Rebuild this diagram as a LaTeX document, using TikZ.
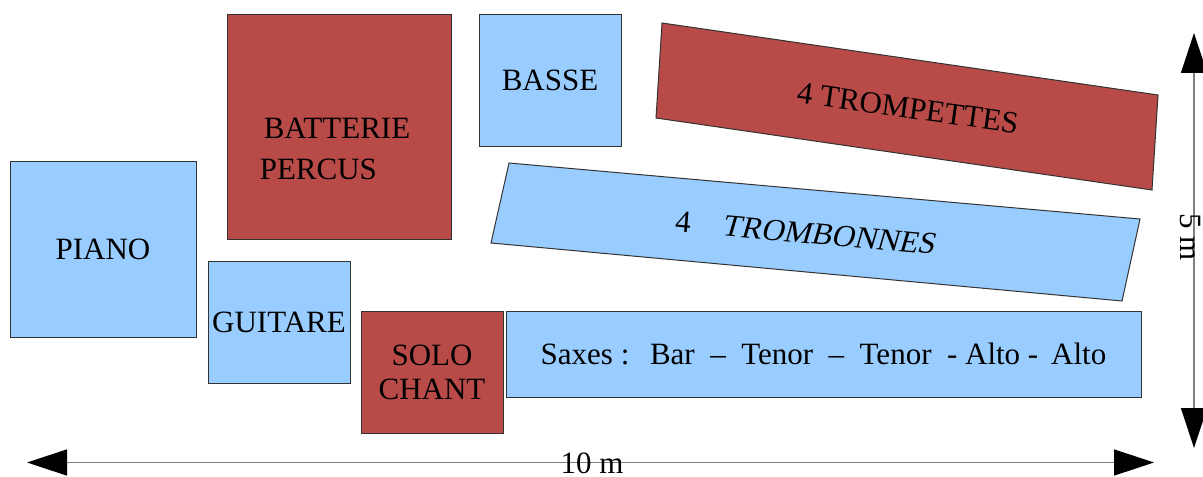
\documentclass[tikz,border=0pt]{standalone}
\usepackage{fontspec}
\setmainfont{Liberation Serif}
\newfontfamily\slantfont[FakeSlant=0.2]{Liberation Serif}
\usetikzlibrary{arrows.meta}
\definecolor{boxblue}{HTML}{99CCFF}
\definecolor{boxred}{HTML}{B84A48}
\begin{document}
\begin{tikzpicture}[x=0.5pt, y=-0.5pt, font=\fontsize{15.5pt}{17pt}\selectfont]
    \tikzstyle{blue box} = [rectangle, draw=black!80, fill=boxblue, line width=0.5pt, inner sep=1pt, align=center]
    \tikzstyle{red box} = [rectangle, draw=black!80, fill=boxred, line width=0.5pt, inner sep=1pt, align=center]
    \tikzstyle{cote} = [draw=black!50, line width=0.75pt, {Triangle[length=20pt, width=13pt, color=black, fill=black]}-{Triangle[length=20pt, width=13pt, color=black, fill=black]}]
    \useasboundingbox (0,0) rectangle (1203,476);

    % Rhythm section
    \node [blue box, minimum width=93pt, minimum height=88pt] (piano) at (103,249) {PIANO};
    \node [red box, minimum width=112pt, minimum height=112pt] (batterie) at (339,127) {};
    \node [align=left, font=\fontsize{15.5pt}{20.5pt}\selectfont] (batterie-txt) at (335,149) {\hspace{2pt}BATTERIE\\PERCUS};
    \node [blue box, minimum width=71pt, minimum height=65.5pt] (basse) at (550,80.5) {BASSE};
    \node [blue box, minimum width=71pt, minimum height=61pt] (guitare) at (279,322) {GUITARE};
    \node [red box, minimum width=71pt, minimum height=61pt] (chant) at (432,372) {SOLO\\CHANT};

    % Brass
    \draw [fill=boxred, draw=black!80, line width=0.5pt] (662,23) -- (1158,95) -- (1152,190) -- (656,118) -- cycle;
    \node [rotate=-8] (trompettes) at (908,108) {4 TROMPETTES};
    \draw [fill=boxblue, draw=black!80, line width=0.5pt] (509,163) -- (1140,219) -- (1122,301) -- (491,243) -- cycle;
    \node [rotate=-5] (trombones) at (805,233) {4\quad{\slantfont TROMBONNES}};

    % Saxes
    \node [blue box, minimum width=317.5pt, minimum height=43pt] (saxes) at (823.5,354) {Saxes :~~\,Bar~~--~~Tenor~~--~~Tenor~~-~Alto~-~\,Alto};

    % Dimensions
    \coordinate (haut) at (1194,33);
    \coordinate (bas) at (1194,448);
    \coordinate (gauche) at (27,462.5);
    \coordinate (droite) at (1154,462.5);
    \draw [cote] (haut) -- (bas);
    \draw [cote] (gauche) -- (droite);
    \node [rotate=-90] (hauteur) at (1190,237) {5 m};
    \node (largeur) at (592,463) {10 m};
\end{tikzpicture}
\end{document}
